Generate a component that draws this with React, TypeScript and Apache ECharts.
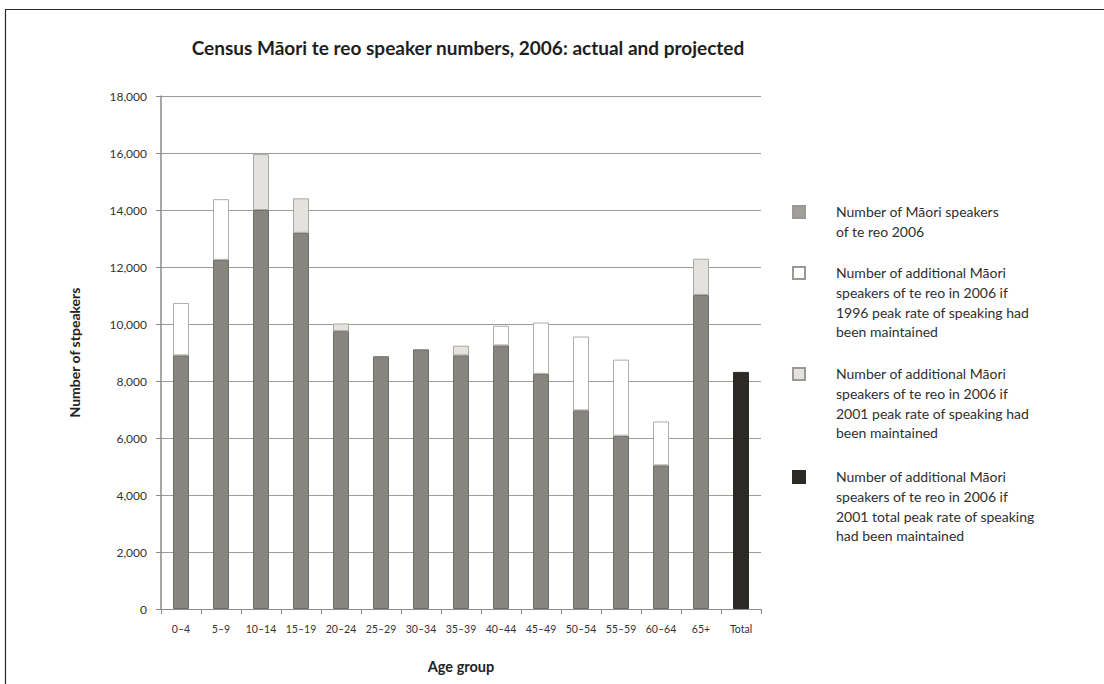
import React, { useEffect, useRef } from "react";
import * as echarts from "echarts";

const categories = ["0–4", "5–9", "10–14", "15–19", "20–24", "25–29", "30–34", "35–39", "40–44", "45–49", "50–54", "55–59", "60–64", "65+", "Total"];
const actual2006 = [8900, 12250, 14000, 13200, 9750, 8870, 9110, 8900, 9250, 8250, 6970, 6080, 5040, 11020, null];
const additional1996 = [1840, 2130, null, null, null, null, null, null, 690, 1800, 2590, 2670, 1540, null, null];
const additional2001 = [null, null, 1960, 1210, 270, null, null, 340, null, null, null, null, null, 1270, null];
const additionalTotal2001 = [null, null, null, null, null, null, null, null, null, null, null, null, null, null, 8320];

const legendLabels = [
  "Number of Māori speakers\nof te reo 2006",
  "Number of additional Māori\nspeakers of te reo in 2006 if\n1996 peak rate of speaking had\nbeen maintained",
  "Number of additional Māori\nspeakers of te reo in 2006 if\n2001 peak rate of speaking had\nbeen maintained",
  "Number of additional Māori\nspeakers of te reo in 2006 if\n2001 total peak rate of speaking\nhad been maintained",
];

const FONT = "Lato, 'Noto Sans', sans-serif";

export default function App() {
  const ref = useRef<HTMLDivElement>(null);
  useEffect(() => {
    document.body.style.margin = "0";
    if (!ref.current) return;
    const chart = echarts.init(ref.current, null, { renderer: "svg" });
    const fills = ["#86857e", "#ffffff", "#e3e2df", "#2b2a27"];
    const borders = ["#6f6e69", "#aeada9", "#a9a8a4", "#2b2a27"];
    const legendTops = [212, 273, 374, 477];
    const legendGraphics: any[] = [];
    legendLabels.forEach((label, i) => {
      legendGraphics.push({
        type: "rect",
        shape: { x: 793, y: legendTops[i] - 6, width: 12, height: 12 },
        style: { fill: i === 0 ? "#a09f99" : fills[i], stroke: i === 3 ? fills[3] : "#9a9995", lineWidth: 2 },
      });
      legendGraphics.push({
        type: "text",
        x: 836,
        y: legendTops[i] - 10,
        style: { text: label, font: `14px ${FONT}`, fill: "#2f2f2f", lineHeight: 19.7, textVerticalAlign: "top" },
      });
    });
    const mkSeries = (name: string, data: any[], idx: number) => ({
      name,
      type: "bar",
      stack: "s",
      data,
      barWidth: 16,
      itemStyle: { color: fills[idx], borderColor: borders[idx], borderWidth: 1 },
    });
    chart.setOption({
      animation: false,
      backgroundColor: "#ffffff",
      grid: { left: 161, right: 343, top: 96, bottom: 75 },
      xAxis: {
        type: "category",
        data: categories,
        name: "Age group",
        nameLocation: "middle",
        nameGap: 50,
        nameTextStyle: { fontFamily: FONT, fontWeight: "bold", fontSize: 14.5, color: "#222" },
        axisLine: { lineStyle: { color: "#8c8b87", width: 1 } },
        axisTick: { show: true, length: 5, lineStyle: { color: "#8c8b87" } },
        axisLabel: { fontFamily: FONT, fontSize: 10.5, color: "#333", margin: 14, interval: 0 },
      },
      yAxis: {
        type: "value",
        min: 0,
        max: 18000,
        interval: 2000,
        name: "Number of stpeakers",
        nameLocation: "middle",
        nameGap: 80,
        nameRotate: 90,
        nameTextStyle: { fontFamily: FONT, fontWeight: "bold", fontSize: 14, color: "#222" },
        axisLine: { show: true, lineStyle: { color: "#8c8b87", width: 1.5 } },
        axisTick: { show: true, length: 5, lineStyle: { color: "#8c8b87" } },
        axisLabel: {
          fontFamily: FONT,
          fontSize: 12,
          color: "#333",
          margin: 14,
          formatter: (v: number) => v.toLocaleString("en-US"),
        },
        splitLine: { lineStyle: { color: "#9d9c98", width: 1 } },
      },
      series: [
        mkSeries("Number of Māori speakers of te reo 2006", actual2006, 0),
        mkSeries("Additional (1996 peak rate)", additional1996, 1),
        mkSeries("Additional (2001 peak rate)", additional2001, 2),
        mkSeries("Additional (2001 total peak rate)", additionalTotal2001, 3),
      ],
      graphic: [
        {
          type: "rect",
          shape: { x: 5.5, y: 9.5, width: 1300, height: 900 },
          style: { fill: "none", stroke: "#2a2a2a", lineWidth: 1.2 },
          silent: true,
        },
        {
          type: "text",
          x: 468,
          y: 47,
          style: {
            text: "Census Māori te reo speaker numbers, 2006: actual and projected",
            font: `bold 19px ${FONT}`,
            fill: "#1e1e1e",
            textAlign: "center",
            textVerticalAlign: "middle",
          },
        },
        ...legendGraphics,
      ],
    });
    return () => chart.dispose();
  }, []);
  return <div ref={ref} style={{ width: 1104, height: 684 }} />;
}
